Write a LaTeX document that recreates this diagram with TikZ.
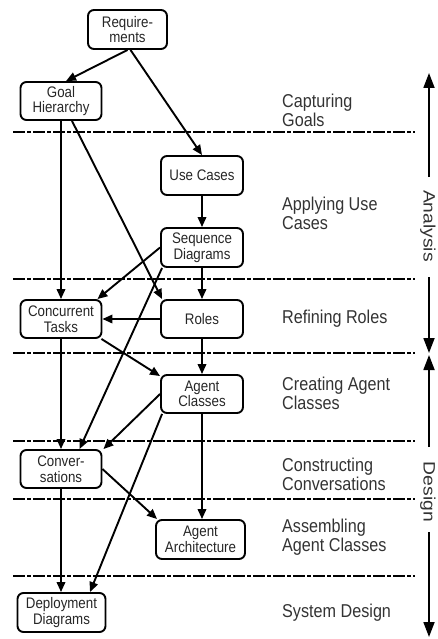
\documentclass[tikz,border=0pt]{standalone}
\usepackage{fontspec}
\setmainfont{Liberation Sans}
\newfontfamily\narrowsans{Liberation Sans}[FakeStretch=0.87]
\newfontfamily\widesans{Liberation Sans}[FakeStretch=1.17]
\usetikzlibrary{arrows.meta}
\newcommand\diagboxfont{\narrowsans\fontsize{15.3}{15.5}\selectfont}
\newcommand\phasefont{\narrowsans\fontsize{18.6}{19}\selectfont}
\newcommand\axisfont{\widesans\fontsize{16.5}{16.5}\selectfont}
\begin{document}
\begin{tikzpicture}[x=1pt,y=-1pt,
  box/.style={draw, rounded corners=6pt, line width=1.9pt, inner sep=0pt,
    align=center, font=\diagboxfont, text=black!85},
  flow/.style={-{Triangle[length=10pt,width=8.5pt]}, line width=1.9pt},
  sep/.style={line width=1.2pt, dash pattern=on 12pt off 2pt on 4pt off 2pt},
  phase/.style={anchor=west, align=left, inner sep=0pt, font=\phasefont, text=black!80},
  axisarrow/.style={-{Triangle[length=15pt,width=11pt]}, line width=1.8pt},
  axislabel/.style={rotate=-90, inner sep=0pt, font=\axisfont, text=black!80}]
\useasboundingbox (0,0) rectangle (437,639);

% phase separators
\foreach \yy in {132,279,353,441,499,576}
  \draw[sep] (13,\yy) -- (415,\yy);

% work products
\node[box, minimum width=79pt, minimum height=39pt] (req)   at (127.5,29.5) {Require-\\ments};
\node[box, minimum width=81pt, minimum height=38pt] (goal)  at (61,101)     {Goal\\Hierarchy};
\node[box, minimum width=82pt, minimum height=39pt] (uc)    at (202,175.5)  {Use Cases};
\node[box, minimum width=82pt, minimum height=39pt] (seq)   at (202,247.5)  {Sequence\\Diagrams};
\node[box, minimum width=81pt, minimum height=38pt] (ct)    at (61,319)     {Concurrent\\Tasks};
\node[box, minimum width=82pt, minimum height=38pt] (roles) at (202,319)    {Roles};
\node[box, minimum width=82pt, minimum height=38pt] (ac)    at (202,394)    {Agent\\Classes};
\node[box, minimum width=81pt, minimum height=38pt] (conv)  at (61,469)     {Conver-\\sations};
\node[box, minimum width=89pt, minimum height=39pt] (arch)  at (200.5,539.5) {Agent\\Architecture};
\node[box, minimum width=88pt, minimum height=39pt] (dep)   at (61.5,612.5) {Deployment\\Diagrams};

% dependencies
\draw[flow] (req.south) -- ([xshift=5pt]goal.north);
\draw[flow] ([xshift=3pt]req.south) -- (uc.north);
\draw[flow] (goal.south) -- (goal.south |- ct.north);
\draw[flow] ([xshift=11pt]goal.south) -- ([xshift=2pt]roles.north west);
\draw[flow] (uc) -- (seq);
\draw[flow] (seq.west) -- ([xshift=-5pt]ct.north east);
\draw[flow] (seq) -- (roles);
\draw[flow] ([xshift=2pt]seq.south west) -- ([xshift=18.5pt]conv.north);
\draw[flow] (roles) -- (ct);
\draw[flow] (roles) -- (ac);
\draw[flow] ([xshift=-1pt]ct.south east) -- ([yshift=-2pt]ac.north west);
\draw[flow] (ct) -- (conv);
\draw[flow] (ac.west) -- ([xshift=1pt]conv.north east);
\draw[flow] ([xshift=2pt]ac.south west) -- ([xshift=28.5pt]dep.north);
\draw[flow] (ac.south) -- (ac.south |- arch.north);
\draw[flow] (conv.east) -- ([xshift=2pt]arch.north west);
\draw[flow] (conv.south) -- (conv.south |- dep.north);

% phase names
\node[phase] (p1) at (282,110.5) {Capturing\\Goals};
\node[phase] (p2) at (282,213.5) {Applying Use\\Cases};
\node[phase] (p3) at (282,319)   {Refining Roles};
\node[phase] (p4) at (282,393.5) {Creating Agent\\Classes};
\node[phase] (p5) at (282,474)   {Constructing\\Conversations};
\node[phase] (p6) at (282,537)   {Assembling\\Agent Classes};
\node[phase] (p7) at (282,613)   {System Design};

% analysis / design extent
\coordinate (anaTop) at (429,73);
\coordinate (anaUp)  at (429,177);
\coordinate (anaDn)  at (429,277);
\coordinate (anaEnd) at (429,353);
\coordinate (desTop) at (429,355);
\coordinate (desUp)  at (429,447);
\coordinate (desDn)  at (429,532);
\coordinate (desEnd) at (429,637);
\draw[axisarrow] (anaUp) -- (anaTop);
\draw[axisarrow] (anaDn) -- (anaEnd);
\draw[axisarrow] (desUp) -- (desTop);
\draw[axisarrow] (desDn) -- (desEnd);
\node[axislabel] (ana) at (428,226) {Analysis};
\node[axislabel] (des) at (428,492) {Design};
\end{tikzpicture}
\end{document}
